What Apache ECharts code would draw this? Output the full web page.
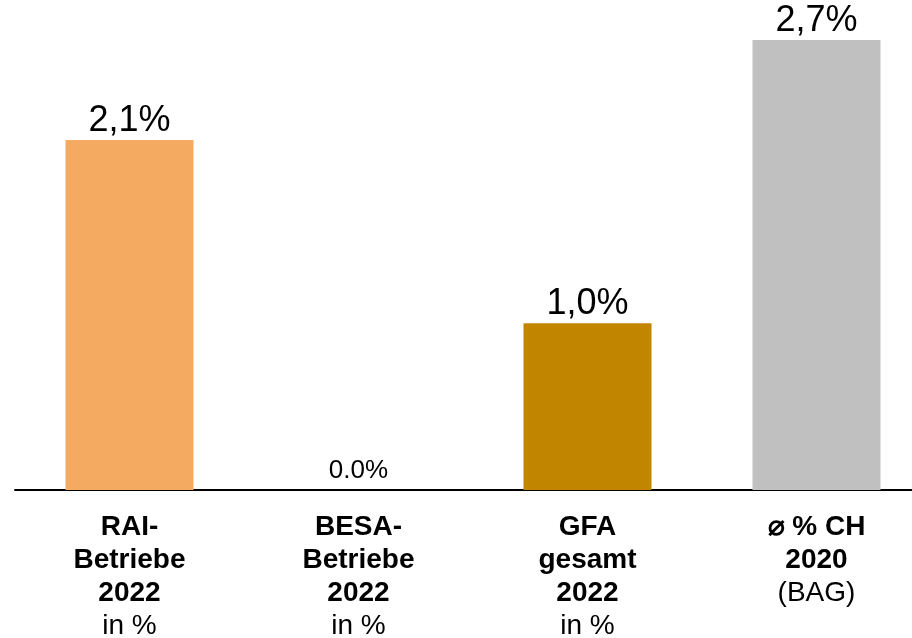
<!DOCTYPE html>
<html><head><meta charset="utf-8">
<script src="https://cdn.jsdelivr.net/npm/echarts@6/dist/echarts.min.js"></script>
<style>html,body{margin:0;padding:0;background:#fff}#c{width:912px;height:638px}</style>
</head><body><div id="c"></div>
<script>
var categories = ['RAI-Betriebe 2022 in %', 'BESA-Betriebe 2022 in %', 'GFA gesamt 2022 in %', '⌀ % CH 2020 (BAG)'];
var values = [2.1, 0.0, 1.0, 2.7];
var valueLabels = ['2,1%', '0.0%', '1,0%', '2,7%'];
var colors = ['#F5AA62', '#F5AA62', '#C28500', '#C0C0C0'];
var axisLabels = [
  '{b|RAI-}\n{b|Betriebe}\n{b|2022}\n{n|in %}',
  '{b|BESA-}\n{b|Betriebe}\n{b|2022}\n{n|in %}',
  '{b|GFA}\n{b|gesamt}\n{b|2022}\n{n|in %}',
  '{b|⌀ % CH}\n{b|2020}\n{n|(BAG)}'
];
var chart = echarts.init(document.getElementById('c'));
chart.setOption({
  animation: false,
  grid: {left: 15, top: 40, width: 916, height: 450, containLabel: false, outerBoundsMode: 'none'},
  xAxis: {
    type: 'category', data: categories,
    axisLine: {show: true, lineStyle: {color: '#000', width: 2}},
    axisTick: {show: false},
    axisLabel: {
      interval: 0, margin: 21,
      formatter: function (v, i) { return axisLabels[i]; },
      rich: {
        b: {fontFamily: 'Liberation Sans', fontWeight: 'bold', fontSize: 28, lineHeight: 33, color: '#000'},
        n: {fontFamily: 'Liberation Sans', fontSize: 28, lineHeight: 33, color: '#000'}
      }
    }
  },
  yAxis: {type: 'value', min: 0, max: 2.7, show: false, splitLine: {show: false}},
  series: [{
    type: 'bar', barWidth: 128,
    data: values.map(function (v, i) {
      return {value: v, itemStyle: {color: colors[i]},
        label: {fontSize: v === 0 ? 26 : 36, distance: v === 0 ? 6 : 1}};
    }),
    label: {
      show: true, position: 'top', color: '#000',
      fontFamily: 'Liberation Sans',
      formatter: function (p) { return valueLabels[p.dataIndex]; }
    }
  }]
});
</script></body></html>
